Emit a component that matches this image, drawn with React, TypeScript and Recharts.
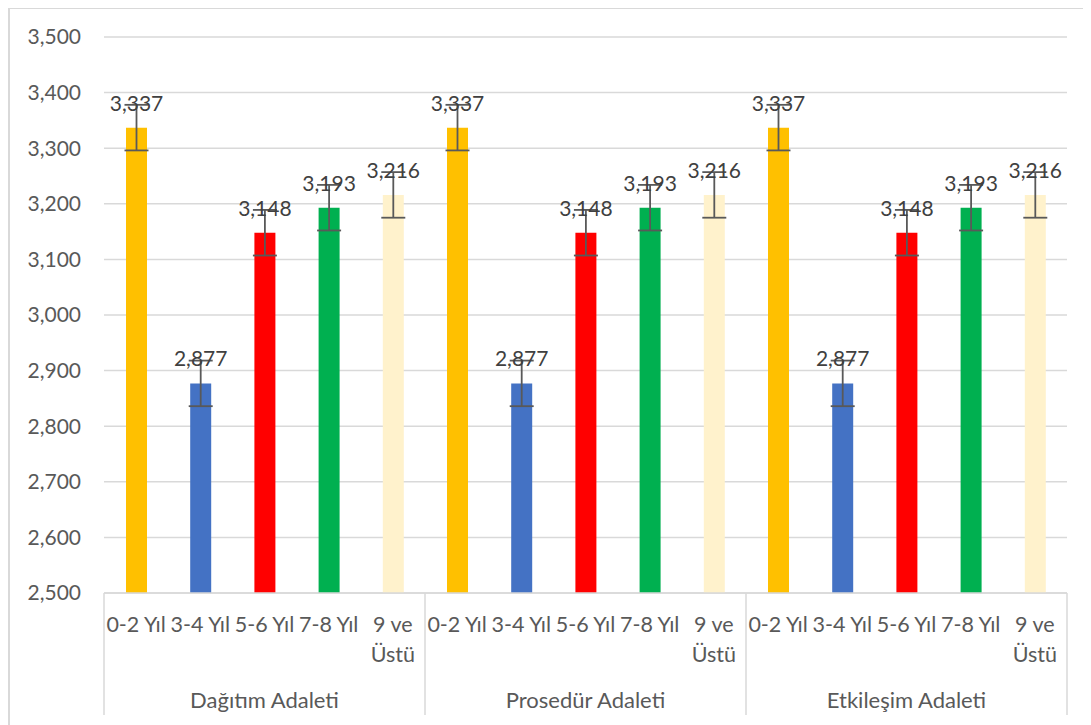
import React from 'react';
import { BarChart, Bar, XAxis, YAxis, CartesianGrid, Cell, ErrorBar, LabelList } from 'recharts';

const groups = ['Dağıtım Adaleti', 'Prosedür Adaleti', 'Etkileşim Adaleti'];
const categories = ['0-2 Yıl', '3-4 Yıl', '5-6 Yıl', '7-8 Yıl', '9 ve Üstü'];
const categoryLines = [['0-2 Yıl'], ['3-4 Yıl'], ['5-6 Yıl'], ['7-8 Yıl'], ['9 ve', 'Üstü']];
const groupValues = [
  [3.337, 2.877, 3.148, 3.193, 3.216],
  [3.337, 2.877, 3.148, 3.193, 3.216],
  [3.337, 2.877, 3.148, 3.193, 3.216],
];
const errorValues = [0.041, 0.041, 0.041, 0.041, 0.041];
const colors = ['#FFC000', '#4472C4', '#FF0000', '#00B050', '#FFF2CC'];
const yTicks = [2.5, 2.6, 2.7, 2.8, 2.9, 3.0, 3.1, 3.2, 3.3, 3.4, 3.5];

const rows = groups.flatMap((g, gi) =>
  categories.map((c, ci) => ({
    id: `${gi}-${ci}`,
    group: g,
    cat: c,
    ci,
    value: groupValues[gi][ci],
    err: errorValues[ci],
  }))
);

const W = 1081;
const H = 716;
const MARGIN = { top: 28, right: 24, bottom: 0, left: 10 };
const Y_W = 84;
const PLOT_W = W - MARGIN.left - MARGIN.right - Y_W;
const BAND = PLOT_W / rows.length;
const FONT = 'Lato, "Open Sans", sans-serif';
const fmt = (v: number) => v.toFixed(3).replace('.', ',');

const CatTick = (props: any) => {
  const { x, y, index } = props;
  const row = rows[index];
  if (!row) return null;
  const half = BAND / 2;
  const lines = categoryLines[row.ci];
  return (
    <g>
      {lines.map((ln, li) => (
        <text
          key={li}
          x={x}
          y={y + 39 + li * 30}
          textAnchor="middle"
          fontSize={21.5}
          fontFamily={FONT}
          fill="#595959"
        >
          {ln}
        </text>
      ))}
      {row.ci === 0 && (
        <line x1={x - half} x2={x - half} y1={y} y2={y + 122} stroke="#d9d9d9" strokeWidth={1.5} />
      )}
      {index === rows.length - 1 && (
        <line x1={x + half} x2={x + half} y1={y} y2={y + 122} stroke="#d9d9d9" strokeWidth={1.5} />
      )}
      {row.ci === 2 && (
        <text x={x} y={y + 115} textAnchor="middle" fontSize={22} fontFamily={FONT} fill="#595959">
          {row.group}
        </text>
      )}
    </g>
  );
};

export default function App() {
  return (
    <div
      style={{
        width: W,
        height: H,
        marginTop: -1,
        borderTop: '2px solid #d9d9d9',
        borderLeft: '2px solid #d9d9d9',
        background: '#fff',
      }}
    >
      <BarChart width={W} height={H} data={rows} margin={MARGIN}>
        <CartesianGrid vertical={false} stroke="#d9d9d9" strokeWidth={1.5} />
        <XAxis
          dataKey="id"
          interval={0}
          height={132}
          tickSize={0}
          tickMargin={0}
          tickLine={false}
          axisLine={{ stroke: '#d9d9d9', strokeWidth: 1.5 }}
          tick={<CatTick />}
        />
        <YAxis
          width={Y_W}
          domain={[2.5, 3.5]}
          ticks={yTicks}
          interval={0}
          axisLine={false}
          tickLine={false}
          tickSize={6}
          tickMargin={17}
          tickFormatter={fmt}
          tick={{ fontSize: 21, fontFamily: FONT, fill: '#595959' }}
        />
        <Bar dataKey="value" barSize={21} isAnimationActive={false}>
          {rows.map((r) => (
            <Cell key={r.id} fill={colors[r.ci]} />
          ))}
          <ErrorBar dataKey="err" width={12} stroke="#595959" strokeWidth={1.8} direction="y" />
          <LabelList
            dataKey="value"
            position="top"
            offset={17}
            formatter={(v: any) => fmt(Number(v))}
            style={{ fontSize: 21, fontFamily: FONT, fill: '#404040' }}
          />
        </Bar>
      </BarChart>
    </div>
  );
}
